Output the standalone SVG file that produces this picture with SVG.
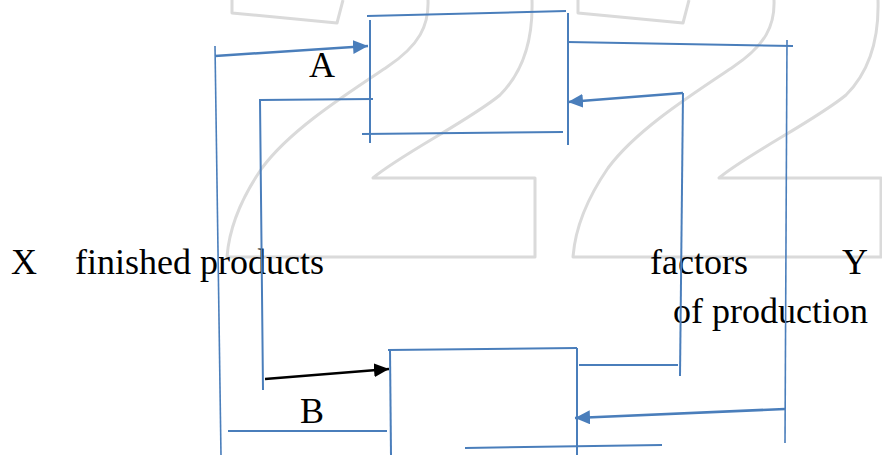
<svg xmlns="http://www.w3.org/2000/svg" width="882" height="455" viewBox="0 0 882 455">
<style>
.wm{fill:none;stroke:#dadada;stroke-width:3;stroke-linejoin:round}
.ln{fill:none;stroke:#4a7ebb;stroke-width:2}
.thin{fill:none;stroke:#4a7ebb;stroke-width:1.6}
.arw{fill:none;stroke:#4a7ebb;stroke-width:2.6}
.blk{fill:none;stroke:#000;stroke-width:2.4}
.t{font-family:"Liberation Serif","Times New Roman",serif;font-size:36px;fill:#000}
</style>
<defs>
<marker id="ab" markerUnits="userSpaceOnUse" markerWidth="16" markerHeight="14" refX="15" refY="7" orient="auto">
<path d="M0,0 L15,7 L0,14 z" fill="#4a7ebb"/>
</marker>
<marker id="ak" markerUnits="userSpaceOnUse" markerWidth="16" markerHeight="14" refX="15" refY="7" orient="auto">
<path d="M0,0 L15,7 L0,14 z" fill="#000"/>
</marker>
<g id="digit">
<path class="wm" d="M232,0 L232,13 L337,23 L343,0"/>
<path class="wm" d="M428,0 C429,25 420,45 387,67 C345,95 290,130 262,168 C240,200 229,230 227,257 L535,257 L535,178 L373,178 C400,155 470,120 500,95 C525,70 533,35 532,0"/>
</g>
</defs>
<g id="watermark">
<use href="#digit"/>
<use href="#digit" transform="translate(346,0)"/>
</g>
<g id="nodeA">
<path class="ln" d="M367,16 L566,11"/>
<path class="ln" d="M370,20 L370,143"/>
<path class="ln" d="M568,13 L568,145"/>
<path class="ln" d="M362,134 L563,132"/>
<text class="t" x="309" y="77">A</text>
</g>
<g id="nodeB">
<path class="ln" d="M388,350 L577,348"/>
<path class="ln" d="M390,350 L391,455"/>
<path class="ln" d="M577,348 L577,455"/>
<text class="t" x="300" y="423">B</text>
</g>
<g id="nodeX">
<text class="t" x="11" y="274">X</text>
<text class="t" x="75" y="274">finished products</text>
</g>
<g id="nodeY">
<text class="t" x="650" y="274">factors</text>
<text class="t" x="842" y="274">Y</text>
<text class="t" x="673" y="323">of production</text>
</g>
<g id="connectors">
<path class="thin" d="M215,46 L221,455"/>
<path class="arw" d="M215,56 L368,46" marker-end="url(#ab)"/>
<path class="ln" d="M373,99 L260,100 L263,390"/>
<path class="blk" d="M265,379 L389,369" marker-end="url(#ak)"/>
<path class="ln" d="M567,42 L793,46"/>
<path class="thin" d="M787,40 L785,443"/>
<path class="arw" d="M683,93 L568,102" marker-end="url(#ab)"/>
<path class="ln" d="M683,93 L680,376"/>
<path class="ln" d="M579,365 L678,365"/>
<path class="arw" d="M785,409 L575,418" marker-end="url(#ab)"/>
<path class="ln" d="M228,431 L387,431"/>
<path class="ln" d="M465,448 L662,445"/>
</g>
</svg>
